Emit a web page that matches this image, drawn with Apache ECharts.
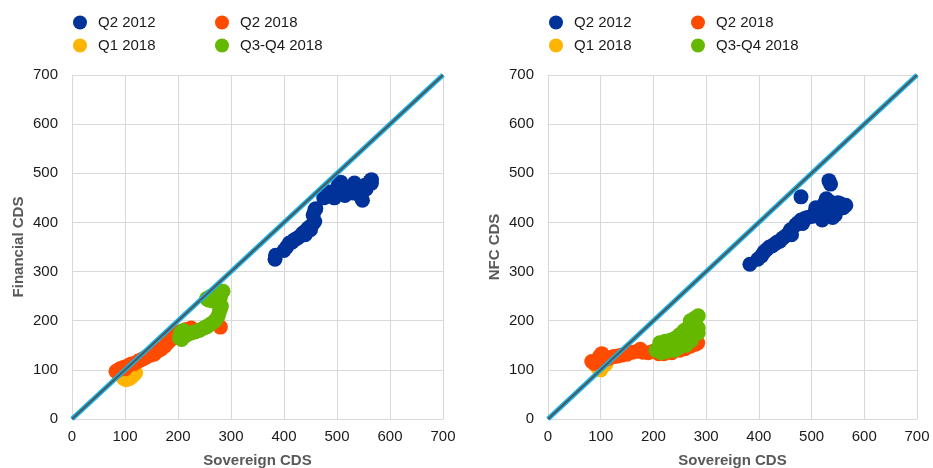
<!DOCTYPE html>
<html>
<head>
<meta charset="utf-8">
<script src="https://cdn.jsdelivr.net/npm/echarts@6/dist/echarts.min.js"></script>
<style>
  html, body { margin: 0; padding: 0; background: #fff; }
  #chart { width: 933px; height: 468px; }
</style>
</head>
<body>
<div id="chart"></div>
<script>
// [sovereign CDS, financial CDS]
const finQ2_2012 = [[383,325],[384,333],[400,343],[405,350],[410,358],[415,360],[420,365],[425,368],[430,372],[435,378],[440,382],[445,388],[450,392],[455,398],[458,402],[455,415],[458,425],[460,428],[450,385],[440,375],
  [475,450],[478,458],[480,463],[485,455],[490,458],[495,462],[500,470],[503,478],[507,482],[510,470],[515,455],[520,462],[525,468],[530,475],[533,480],[537,472],[540,462],[545,452],[548,445],[550,465],[552,475],[555,468],[558,478],[562,483],[565,480],[565,487],[505,460],[495,450],[530,460]];
const finQ1_2018 = [[97,83],[102,80],[108,82],[112,85],[117,90],[120,94],[105,88],[100,90]];
const finQ2_2018 = [[83,97],[88,100],[92,103],[97,105],[100,102],[103,107],[108,110],[112,112],[118,113],[125,118],[130,120],[135,123],[140,126],[148,130],[155,132],[160,137],[168,142],[175,148],[180,155],[185,160],[190,168],[195,172],[200,176],[205,178],[215,182],[225,185],[280,187]];
const finQ34_2018 = [[203,165],[207,162],[212,168],[218,172],[225,175],[232,177],[240,180],[245,183],[250,186],[255,188],[260,192],[265,196],[270,200],[273,205],[276,210],[278,218],[280,224],[282,230],[276,238],[265,240],[258,242],[254,245],[262,250],[270,252],[278,256],[285,260],[280,248],[205,175],[210,180],[215,172]];

// [sovereign CDS, NFC CDS]
const nfcQ2_2012 = [[383,315],[398,325],[405,332],[410,340],[415,345],[420,350],[425,352],[430,356],[435,360],[440,362],[445,368],[450,372],[455,376],[458,380],[460,385],[462,375],[470,395],[475,400],[480,405],[483,398],[487,408],[492,410],[500,412],[505,418],[508,430],[512,420],[515,425],[520,432],[525,440],[528,448],[530,430],[535,442],[533,485],[536,478],[540,420],[545,415],[548,430],[550,440],[555,438],[560,430],[565,435],[480,452],[520,405],[540,410]];
const nfcQ1_2018 = [[95,104],[100,100],[105,108],[110,112],[90,110]];
const nfcQ2_2018 = [[83,117],[88,113],[93,120],[98,128],[102,133],[106,125],[112,122],[118,125],[125,127],[132,128],[140,130],[150,132],[160,136],[170,138],[175,142],[180,136],[190,135],[200,138],[210,133],[220,133],[235,135],[250,140],[260,143],[270,148],[280,152],[284,155]];
const nfcQ34_2018 = [[205,140],[210,145],[215,135],[220,150],[225,138],[230,152],[235,145],[240,155],[245,158],[250,165],[255,170],[260,175],[265,172],[270,180],[275,185],[280,180],[285,175],[270,200],[278,205],[285,210],[255,150],[240,140],[225,145],[260,160],[215,150],
  [212,155],[222,158],[232,160],[242,165],[250,172],[258,180],[265,185],[272,190],[280,192],[285,185],[230,140],[248,145],[262,150],[272,160]];

const diagonal = [[0,0],[700,700]];
const seriesNames = ['Q2 2012', 'Q1 2018', 'Q2 2018', 'Q3-Q4 2018'];
const colors = ['#003299', '#ffb400', '#ff4b00', '#65b800'];

const font = 'Liberation Sans, Arial, sans-serif';
const chart = echarts.init(document.getElementById('chart'));

function xAxis(gi) {
  return {
    gridIndex: gi, type: 'value', min: 0, max: 700, interval: 100,
    name: 'Sovereign CDS', nameLocation: 'middle', nameGap: 34,
    nameTextStyle: { color: '#595959', fontWeight: 'bold', fontSize: 15, fontFamily: font },
    axisLine: { lineStyle: { color: '#d9d9d9' } },
    axisTick: { show: false },
    axisLabel: { color: '#1a1a1a', fontSize: 15, fontFamily: font, margin: 10 },
    splitLine: { lineStyle: { color: '#d9d9d9' } }
  };
}
function yAxis(gi, name) {
  return {
    gridIndex: gi, type: 'value', min: 0, max: 700, interval: 100,
    name: name, nameLocation: 'middle', nameGap: 46,
    nameTextStyle: { color: '#595959', fontWeight: 'bold', fontSize: 15, fontFamily: font },
    axisLine: { show: true, lineStyle: { color: '#d9d9d9' } },
    axisTick: { show: false },
    axisLabel: { color: '#1a1a1a', fontSize: 15, fontFamily: font, margin: 14 },
    splitLine: { lineStyle: { color: '#d9d9d9' } }
  };
}
function legend(left, names) {
  return {
    left: left, top: 15, orient: 'vertical', padding: 0, itemGap: 8,
    itemWidth: 14, itemHeight: 14, icon: 'circle',
    data: names,
    textStyle: { color: '#1a1a1a', fontSize: 15, fontFamily: font, padding: [0, 0, 0, 6] }
  };
}
function scatter(gi, data, i) {
  return {
    name: seriesNames[i], type: 'scatter', xAxisIndex: gi, yAxisIndex: gi,
    data: data, symbolSize: 15, itemStyle: { color: colors[i], opacity: 1 }, z: 2 + i
  };
}
function diag(gi) {
  return [
    { type: 'line', xAxisIndex: gi, yAxisIndex: gi, data: diagonal, symbol: 'none', silent: true, z: 10,
      lineStyle: { color: '#12b5ec', width: 5 } },
    { type: 'line', xAxisIndex: gi, yAxisIndex: gi, data: diagonal, symbol: 'none', silent: true, z: 11,
      lineStyle: { color: '#555555', width: 2 } }
  ];
}

chart.setOption({
  animation: false,
  color: colors,
  legend: [
    legend(73, ['Q2 2012', 'Q1 2018']),
    legend(215, ['Q2 2018', 'Q3-Q4 2018']),
    legend(549, ['Q2 2012', 'Q1 2018']),
    legend(691, ['Q2 2018', 'Q3-Q4 2018'])
  ],
  grid: [
    { left: 72, right: 490, top: 75, bottom: 49, outerBoundsMode: 'none' },
    { left: 548, right: 16, top: 75, bottom: 49, outerBoundsMode: 'none' }
  ],
  xAxis: [xAxis(0), xAxis(1)],
  yAxis: [yAxis(0, 'Financial CDS'), yAxis(1, 'NFC CDS')],
  series: [
    scatter(0, finQ2_2012, 0), scatter(0, finQ1_2018, 1), scatter(0, finQ2_2018, 2), scatter(0, finQ34_2018, 3),
    scatter(1, nfcQ2_2012, 0), scatter(1, nfcQ1_2018, 1), scatter(1, nfcQ2_2018, 2), scatter(1, nfcQ34_2018, 3)
  ].concat(diag(0), diag(1))
});
</script>
</body>
</html>
